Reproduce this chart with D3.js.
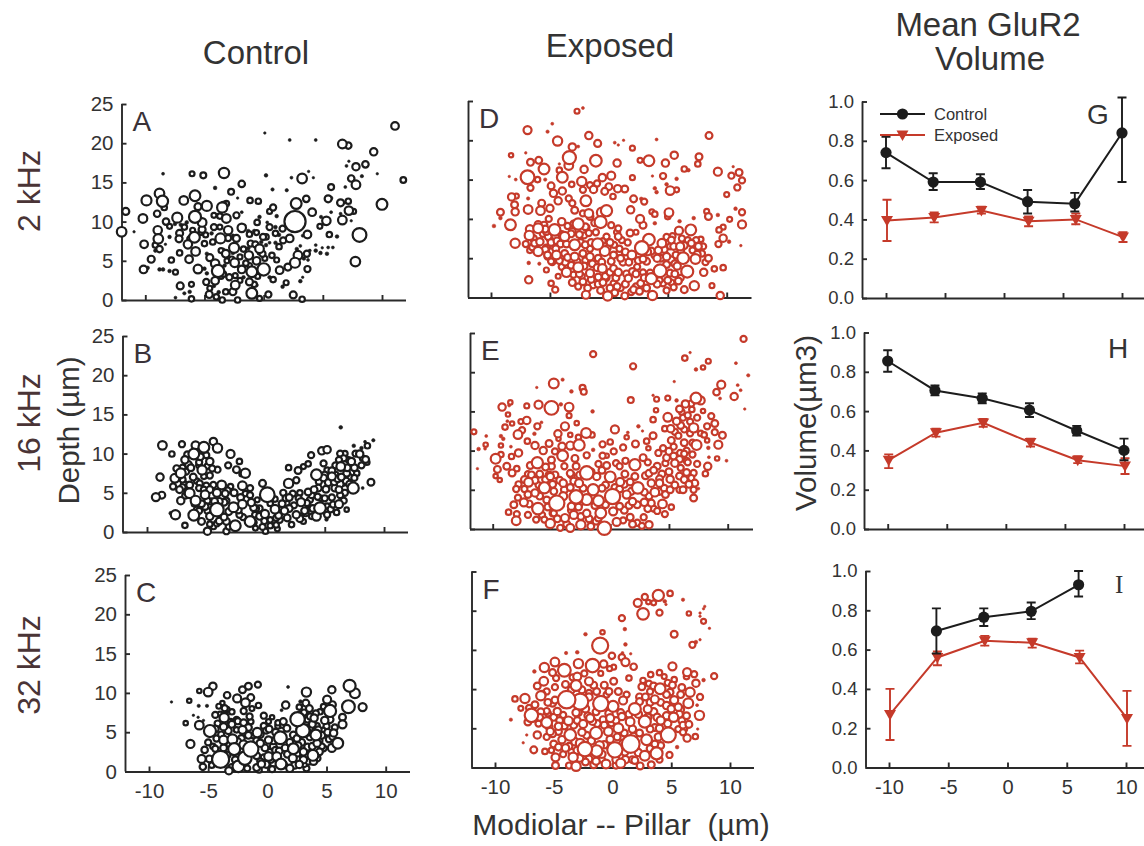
<!DOCTYPE html>
<html>
<head>
<meta charset="utf-8">
<script src="https://d3js.org/d3.v7.min.js"></script>
<style>
  html, body { margin: 0; padding: 0; background: #fff; }
  text { font-family: "Liberation Sans", Arial, sans-serif; fill: #333; white-space: pre; }
  .domain, .tick line { stroke: #2a2a2a; stroke-width: 1.9; }
</style>
</head>
<body>
<svg id="canvas" width="1144" height="846"></svg>
<script>
  // synapse bubbles: [modiolar-pillar um, depth um, GluR2 volume]
  const panelA = [
    [2.65,10,2.5],[8.1,8.3,.9],[10,12.2,.5],[7.75,4.9,.38],[11.1,22.2,.22],[11.8,15.3,.11],[9.3,18.9,.2],[8.6,17.3,.15],[7.8,17,.2],[6.65,19.9,.3],[7.15,19.7,.15],
    [9.6,16.1,.02],[8.3,15.8,.04],[7.4,15.5,.15],[7.8,14.7,.3],[6.9,14.4,.03],[5.7,14.4,.12],[.1,21.3,.02],[2.2,20.4,.03],[4.4,20.4,.03],[7.2,17.7,.02],[7,17.1,.03],
    [-3.35,16.2,.45],[-5.1,15.9,.12],[-6.05,16.1,.08],[-8.5,16.1,.03],[.2,15.9,.05],[2.35,15.6,.03],[3.25,15.5,.38],[3.8,16.4,.02],[4.2,15.6,.02],[-4.1,14.3,.05],
    [-2.75,13.8,.12],[-1.85,14.8,.15],[.75,14.1,.04],[1.95,14,.04],[-2.2,13,.02],[-1.15,12.7,.1],[-.45,12.6,.1],[3.6,12.9,.15],[2.75,12.3,.5],[5.45,12.9,.18],[5.7,13,.05],
    [6.5,12.4,.18],[7.15,12.6,.1],[7.2,11.4,.28],[7.6,11.3,.08],[6.65,10.2,.3],[7.4,10.1,.02],[5.3,10.1,.28],[4.85,10.6,.04],[4.1,11.2,.22],[5.7,11.2,.03],[6.5,11,.03],
    [-12,8.7,.38],[-11.65,11.3,.18],[-10.2,10.4,.3],[-10.95,8.7,.02],[-10.1,7.1,.22],[-10.15,3.9,.22],[-9.8,4.1,.05],[-9.5,5.2,.18],[-9.9,12.7,.42],[-8.8,13.6,.38],
    [-8.55,12.6,.55],[-9,11,.15],[-8.4,11.8,.1],[-8.25,10,.15],[-7.95,9.4,.08],[-7.3,10.5,.42],[-6.75,12.7,.3],[-5.8,13.3,.5],[-5.55,11.9,.18],[-4.8,12,.42],[-5.8,10.6,.65],
    [-5.2,9.9,.3],[-8.95,8.9,.28],[-8.9,7.8,.38],[-9.15,7,.1],[-8.8,6.5,.15],[-9.15,6.3,.05],[-7.95,8.05,.05],[-8.3,7.1,.02],[-7.1,8.5,.18],[-7.15,7.8,.18],[-5.85,8,.5],
    [-6.4,7.1,.28],[-7.1,6,.1],[-5.75,6.2,.3],[-6.3,5.2,.22],[-7.8,5.1,.1],[-8.8,3.9,.05],[-8.5,3.9,.05],[-7.95,3.7,.05],[-7.45,3.55,.08],[-7.05,1.8,.18],[-6.1,2,.08],
    [-7.45,.3,.03],[-6.7,.85,.04],[-6.25,1.05,.05],[-6.1,.15,.1],[-5.55,3.95,.3],[-4.9,8.3,.08],[-5.3,8.6,.08],[-5,7.2,.1],
    [-3.5,11.8,.45],[-3.15,10.4,.3],[-3.4,12.1,.15],[-3.15,12.3,.1],[-4.2,10.8,.08],[-3.7,10.7,.1],[-2.3,10.8,.13],[-1.85,11.2,.03],[-3.65,7.85,.42],[-3,8.9,.28],
    [-3.85,3.7,.7],[-2.5,6.65,.42],[-2.45,4.75,.3],[-3.2,5.9,.22],[-4.1,4.65,.28],[-4.55,5.4,.18],[-4.85,2.3,.13],[-4.1,2.45,.22],[-1.85,3.9,.22],[-1,3.6,.5],[0,3.9,.7],
    [-2.4,1.9,.3],[-1,.85,.5],[-.35,6.55,.3],[-1.25,5.7,.28],[-.6,5,.22],[-2.3,7.85,.18],[-1.85,9.2,.28],[-1.2,8.4,.1],[-.05,8.05,.13],[.2,8.05,.1],[.5,9.3,.13],[.8,11.8,.13],
    [.5,11.3,.08],[1.1,10.7,.05],[-.35,10.6,.05],[-.55,9.9,.1],[2.65,4.75,.42],[2.9,5.7,.3],[3.7,8.35,.22],[2.2,7.85,.22],[1.65,7.6,.13],[1.3,6.8,.1],[1.35,3.8,.22],
    [.7,5.7,.1],[1.1,5.1,.08],[2.05,4.2,.18],[3.7,3.95,.13],[3.1,2.4,.05],[3.3,2.9,.02],[2.5,.65,.18],[3.25,.1,.1],[1.9,2.2,.08],[1.6,1.7,.05],[.8,2.6,.1],[.4,.7,.13],
    [-.35,.2,.08],[-2.2,0,.1],[-3.5,0,.1],[-4,.4,.1],[-4.6,.7,.18],[-4.55,1.5,.08],[-3.2,1.05,.1],[-2.6,1.05,.18],[-1.2,2.3,.18],[-.8,2,.1],[3.65,5.9,.13],[3.9,6.3,.03],
    [4.4,6.3,.05],[4.8,6,.05],[5.35,5.9,.05],[4.95,6.65,.02],[5.45,6.7,.03],[5.85,6.7,.03],[5.55,8.35,.1],[6.2,8.1,.05],[4.75,9.4,.08],[5.1,9.75,.05],[4.4,7,.03],[3.4,5.3,.05],[3.75,5.1,.03],
    [-3,7.9,.13],[-2.7,5.2,.1],[-1.7,6.5,.1],[-1.1,7.2,.13],[-.7,7.1,.13],[-3.6,6.3,.08],[-4.3,7.4,.1],[-4.2,9.3,.13],[-3.7,9.3,.08],[-1.5,4.7,.1],[-.1,5.9,.13],[1,8.5,.1],[1.6,9.1,.13],[2.5,9,.08],
    [-2.9,2.9,.13],[-3.4,3.3,.1],[-2,2.5,.08],[-.5,3,.08],[.5,2.9,.05],[-5.2,9,.18],[-6.7,9.3,.1],[-6.2,7.8,.13],[-7.5,9.7,.05],
    [-4.4,8.5,.05],[-3.9,10.8,.03],[-2.6,8.2,.05],[-3.4,6.4,.05],[-3.1,5,.08],[-2,5.5,.08],[-1.3,6.6,.05],[-.2,7.4,.05],[-.6,8.6,.08],[.2,7,.05],[.5,7.3,.03],[-1.6,9.5,.03],[-1.3,8.8,.05],[-.8,8.8,.05],
    [1,9.3,.05],[.3,9.9,.03],[-.3,6.1,.08],[.1,5.3,.08],[-1.2,4.4,.08],[-2.4,3.1,.08],[-3.3,4.4,.05],[-3.6,3,.08],[-4.2,1.8,.05],[-5,4,.05],[-4.8,3.4,.05],[-.6,1.9,.05],[-1.3,2.6,.05],[-6.5,9.9,.05],
    [-6,8.9,.08],[-7,9.6,.05],[2.8,6.5,.05],[3.1,6.9,.03],[3.3,8.2,.03],[1.3,8.3,.05],[1,7.3,.05],[-4.8,5.9,.05],[-2.6,6,.05],[-2.1,4.2,.05],[-1.7,2.9,.05],[-3.8,1,.05]
  ];
  const panelB = [
    [-8.7,11.05,.3],[-7.9,9.95,.1],[-8.9,7,.2],[-9.25,4.45,.25],[-8.75,4.7,.17],[-7.6,2.2,.35],[-8,2.4,.05],[-6.8,.85,.1],[-7.05,11.2,.13],[-5.9,11.05,.25],[-5.2,10.8,.5],
    [-4.4,11.55,.2],[-4.05,10.7,.35],[-6.05,9.95,.5],[-2.95,9.95,.25],[-2.2,9,.1],[-3.15,8.5,.13],[-2.45,7.95,.17],[-1.7,7.5,.35],[-4.05,7.95,.13],[-4.7,9,.2],[-5.35,7.9,.35],
    [-7.15,7.5,.4],[-6.8,9.2,.2],[-6.1,7,.17],[-7.65,6.85,.3],[-7.8,5.8,.13],[-7.25,5.4,.17],[-6.4,4.95,.4],[-7.15,4,.2],[-5.9,4,.4],[-5.1,4.75,.3],[-4.1,5,.25],[-3.7,6,.3],
    [-4.4,6,.13],[-5.55,6.2,.13],[-2.95,5.8,.1],[-2.65,5,.17],[-1.95,5.9,.3],[-1.3,5.6,.13],[-1.95,3.55,.3],[-2.7,3.15,.4],[-4.1,2.85,.85],[-6.05,2.15,.5],[-5.1,3.25,.17],
    [-5.4,1.35,.17],[-4.7,2,.2],[-4.9,.1,.2],[-3.3,1.35,.17],[-3.3,.1,.13],[-2.55,.8,.5],[-1.3,1.35,.5],[-1.2,3.75,.2],[-.05,2.3,.25],[-.25,.65,.13],[-.85,.5,.08],[0,.1,.1],
    [.15,4.75,1.05],[-.25,6.2,.17],[.8,2.9,.3],[1.95,6.2,.35],[2.6,6.6,.13],[1.95,8.2,.1],[2.75,7.85,.17],[3.2,8.35,.08],[3.6,8.7,.1],[3.85,9.8,.13],[4.75,10.35,.2],[5.2,10.5,.2],
    [3,3.8,.25],[2.6,2.2,.2],[1.83,1.8,.17],[2.2,.95,.1],[4.3,7.3,.5],[4.6,3.05,.6],[3.8,3.05,.1],[4.3,2,.3],[3.2,1.35,.08],[3.75,4.1,.13],[4.45,5.6,.17],[5.1,5.45,.17],
    [5.85,5.6,.17],[5.6,7.1,.25],[6.35,8.35,.3],[6.2,3.55,.25],[7.4,5.6,.55],[7.25,9,.2],[7.95,9.95,.2],[8.45,9.25,.17],[8.6,11,.1],[9.1,11.7,.04],[8.4,11.5,.03],[8.1,10.7,.05],
    [7.45,11,.05],[6.35,13.35,.05],[6.3,10,.13],[8.9,6.35,.17],[8.2,5.6,.03],[8.55,8.9,.1],[7.7,7.5,.1],[6.85,7.5,.17],[4.9,8.75,.13],[6.85,2.85,.06],[6,2.5,.1],[5.15,1.6,.05],
    [1.5,5,.13],[1.8,3.7,.1],[.4,1.55,.1],[1.2,1.55,.13],[-.5,3,.13],[.4,3.65,.1],[1.6,2.7,.2],[3.4,2.4,.13],[-1.9,1.9,.13],[-3.5,3.8,.17],[-4.4,.7,.1],[-3.9,1.4,.17],[-5.8,2.9,.1],
    [-5.2,7.1,.1],[-6.5,8.6,.17],[-7,8.2,.13],[-6.9,6.2,.1],[-6.4,6,.17],[-5,5.9,.13],[-3.3,4,.13],[-2.2,2.2,.13],[-.9,2.2,.1],[.9,.9,.1],[2.9,2,.13],[3.9,2,.1],[5,4.3,.13],
    [5.6,4.4,.13],[6.8,6.5,.17],[6.3,6.1,.17],[7.1,7,.13],[5.9,8.5,.13],[5.2,7.9,.1],[5.2,3.3,.1],[4.7,4.3,.1],[7,9.2,.1],[6.6,9.4,.13],[-6,3.6,.1],[-3.9,3.9,.17],[-4.6,3.9,.13],
    [-1,1.2,.13],[2,4.4,.17],[2.9,5,.1],[.8,4.2,.1],[-.7,4.1,.08],[-2,7.4,.08],[1,.4,.08],[-5.6,8.5,.13],
    [-7.5,8.1,.15],[-7.4,7,.15],[-7,6.7,.13],[-6.7,7.7,.13],[-6.3,8.2,.17],[-6.6,9.9,.13],[-5.5,9.6,.17],[-5.6,8.9,.13],[-5,9.8,.13],[-4.9,8.4,.1],[-4.5,8.1,.13],[-4.7,7.2,.13],[-5.8,6.5,.1],
    [-7,5.7,.13],[-6.6,5.2,.13],[-6.8,4.6,.1],[-5.6,5.6,.13],[-5.2,5.4,.13],[-4.7,5.4,.17],[-4.9,4,.13],[-5.4,3.6,.17],[-5.6,2.7,.13],[-4.9,2.7,.13],[-4.3,3.9,.17],[-3.4,4.9,.17],[-3.2,5.3,.13],
    [-3.1,2.6,.17],[-3.5,1.9,.17],[-3.1,.7,.13],[-4.1,1.1,.13],[-4.7,1,.1],[-2.3,2.8,.17],[-2.1,4.4,.17],[-1.7,4.9,.1],[-1.3,4.7,.13],[-1,3.1,.17],[-.8,3,.13],[-.5,2,.17],[-.1,1.4,.13],[.4,.8,.1],
    [.9,1.8,.13],[1.4,3.6,.17],[1.1,2.1,.17],[1.7,4.3,.13],[2,3,.17],[2.4,3.4,.13],[2.8,4.3,.13],[2.3,4.9,.13],[2.9,1.7,.17],[3.3,2.7,.17],[3.5,3.7,.13],[3.9,4.7,.13],[3.6,5.1,.17],[4.1,5.4,.17],
    [4.4,4.5,.13],[4,3,.17],[5.2,2.2,.13],[5.5,2.9,.13],[5.7,3.5,.13],[4.5,6.4,.13],[4.9,6.9,.17],[5,7.3,.13],[5.3,6.3,.17],[5.8,6.4,.17],[6.1,6.8,.17],[6.4,7,.17],[6.6,6.3,.13],[6.9,8.2,.17],
    [7.5,8.2,.17],[7.2,8.6,.13],[7.1,6.1,.17],[7.5,6.9,.13],[6.7,5,.13],[6.3,4.7,.13],[6.6,4,.13],[6.2,5.4,.17],[5.6,7.8,.17],[5.9,7.3,.13],[6.2,9.2,.13],[6.7,10,.1],[7.6,10,.13],[8.2,9.4,.1],[8.1,8.5,.13]
  ];
  const panelC = [
    [-8.1,8.85,.02],[-6.6,9,.06],[-6.9,6.15,.06],[-6.25,7.15,.02],[-5.85,6.9,.02],[-5.8,8.35,.04],[-5.1,8.35,.04],[-5.4,6.5,.02],[-5.75,10.25,.06],[-5,10.1,.3],[-4.6,10.85,.2],
    [-3.4,9.7,.15],[-5.75,5.9,.3],[-4.85,5.15,.65],[-6.5,3.5,.25],[-5.3,2.75,.15],[-5.55,1.6,.25],[-5.45,.6,.15],[-3.95,1.55,1.5],[-3.25,.1,.2],[-2.45,.65,.6],[-2.8,2.85,.65],
    [-2.95,4.1,.4],[-1.4,2.85,1.15],[-1.9,1.7,.85],[-2.1,5.3,.25],[-3.65,6.85,.35],[-3.7,5.7,.2],[-3.6,8.05,.13],[-2.55,9.3,.25],[-2.1,10.4,.17],[-1.6,10.85,.17],[-.8,11.05,.13],
    [-1.4,9.4,.17],[-1.85,8.75,.3],[-.75,8.4,.1],[-2,7.7,.13],[-2.6,6.55,.13],[-1.4,6.35,.1],[-.85,4.95,.35],[.15,5.4,.17],[-.3,7.1,.13],[.1,6.35,.08],[.1,4,.2],[1.1,4.3,.75],
    [1.15,.95,.5],[.1,1.9,.3],[.8,1.9,.3],[-.5,.95,.2],[1.75,10.75,.03],[1.55,8.45,.2],[1.2,7.8,.03],[1.35,6.35,.17],[2.55,6.65,1],[3,5.2,.85],[2.2,2.9,.5],[2.15,1.7,.25],
    [3.3,10.1,.35],[3.25,8.7,.17],[3.55,8,.17],[2.8,8.9,.05],[3.95,6.8,.2],[4.1,4.65,.5],[3.85,2.05,.5],[3.05,1.5,.2],[3.9,1.3,.2],[4.2,3.6,.2],[5.3,7.7,.65],[5.45,10.4,.2],
    [5.05,9.15,.25],[4.85,6.5,.2],[5.6,4.9,.2],[5.95,3.6,.5],[5.45,3,.25],[4.75,2.95,.13],[6.35,6,.25],[6.35,6.9,.17],[6.95,10.9,.65],[7.4,9.95,.4],[6.85,8.25,.75],[8.05,8.2,.25],
    [4.75,8.25,.1],[4.45,7.6,.1],[2.2,4.65,.17],[1.65,5.5,.17],[.5,3.2,.17],[-2,3.4,.3],[-3.7,4,.3],[-4.6,3.2,.1],[-.6,3.6,.2],[1.35,.85,.2],[3.05,2.5,.2],[4.6,4.6,.17],[5,5.75,.13],
    [-4.1,8.3,.08],[-4.4,7.2,.13],[-4.2,6.1,.13],[-3.1,6.3,.13],[-2.6,5.3,.1],[-1.7,5.7,.13],[-1.2,4.6,.13],[-.3,5.8,.13],[.9,5.8,.1],[.5,1,.13],[-.9,2,.17],[2.7,.9,.2],[2.9,3.7,.17],
    [3.3,.4,.13],[1.9,.4,.2],[-1.7,.4,.13],[-.7,.2,.1],[.4,.3,.13],[-4.7,.8,.1],[-3.2,3.4,.13],[3.6,5.6,.17],[4.1,7.4,.13],[5.5,8.5,.17],[4.2,5.8,.1],[2.8,7.3,.1],
    [-5,3.7,.13],[-4.3,4.2,.13],[-4.4,5.4,.17],[-3.9,4.7,.13],[-3.3,5.2,.17],[-3,6,.17],[-2.5,6.4,.13],[-2,6.2,.17],[-1.6,5.6,.17],[-1.6,4.6,.17],[-2.2,4.2,.17],[-.9,3.9,.17],[-.6,4.7,.17],
    [-.2,3,.17],[.5,3.9,.17],[.7,2.7,.17],[.7,5,.17],[.2,2.5,.13],[-.3,1.8,.13],[-.6,1.3,.13],[-.1,.9,.17],[.3,1.5,.13],[1,2.6,.17],[1.5,3,.17],[1.7,2.2,.17],[1.9,3.7,.17],[2.5,4.2,.17],[2.6,3.3,.17],
    [2.5,2.2,.17],[2.6,1.5,.17],[2.3,.8,.17],[3.1,1,.17],[3.3,1.9,.17],[3.5,1.3,.17],[3.4,3.1,.17],[3.8,3.2,.17],[3.6,4.4,.17],[3.4,5,.17],[3.8,6,.17],[4.3,5.3,.17],[4.4,3.9,.13],[4.6,3.2,.13],
    [4.4,2.5,.17],[4.2,1.7,.17],[4.7,5.2,.13],[5.1,5,.17],[5.2,4.1,.13],[5.5,4.4,.13],[5.7,5.6,.13],[5.3,6.6,.17],[-3.4,2.1,.17],[-3,.5,.17],[-2.7,1.5,.17],[-.9,.5,.17],[-4.9,1.6,.17],[-4.4,2.9,.13],
    [-3.7,3,.17],[-2.5,3.8,.17],[-3.4,7.9,.08],[-3.8,8.7,.06],[-3.6,7.2,.13],[-4,7.3,.08],[-3,7.6,.1],[-1.5,7,.13],[-1.3,8,.08],[2.7,8.2,.1],[3.1,7.5,.13],[3.4,6.6,.13],[3.6,7,.13],[.9,6.2,.1],
    [1.3,5.9,.1],[.4,6.9,.06],[-.1,5.2,.13]
  ];
  const panelD = [
    [-2.7,23.7,.08],[-2.2,24.1,.03],[-4.8,22.1,.03],[-6.9,21.3,.25],[-5.2,21.1,.04],[-4.35,19.9,.35],[-1.7,20.6,.2],[-.95,19.6,.18],[.5,19.7,.03],[.8,19.4,.02],[1.25,20,.02],[2,19,.08],
    [4.05,20.1,.03],[8.5,20.6,.17],[-8.3,18.1,.06],[-7.05,18.4,.02],[-3.1,19.15,.2],[-2.6,19.2,.03],[-3.35,17.8,.8],[-6.65,17.2,.17],[-5.95,17.45,.17],[-4.2,17,.02],[-1.1,17.4,.6],
    [-3.4,16.8,.3],[-2.1,16.3,.2],[.7,17.1,.2],[2.65,17.45,.08],[3.4,17.4,.5],[4.8,17.1,.2],[5.55,18.1,.2],[7.65,17.9,.17],[7.55,17,.1],[6.4,16.35,.1],[6.75,16.2,.05],[9.25,16,.25],
    [10.55,16.65,.02],[11.05,15.9,.17],[10.4,15.5,.13],[11.3,14.9,.13],[10.9,14,.13],[10,13.1,.08],[10.75,11.3,.05],[11.3,10.85,.13],[11.3,9.3,.25],[10.25,9.95,.08],[11.2,6.6,.02],
    [9.7,3.8,.1],[10.2,7.1,.05],[8.75,1.5,.08],[9.45,.25,.2],[8.95,3.65,.1],[8.05,3.2,.2],[7.25,1.5,.35],[6.4,1,.17],[3.7,.25,.35],[1.35,.2,.17],[-.1,.2,.35],[-1.95,.35,.25],
    [-6.8,2.25,.2],[-4.55,1,.13],[-4.9,1.8,.1],[-4.3,2.7,.08],[-6.8,4.4,.05],[-5.9,4.3,.04],[-5.3,3.5,.08],[-9.75,9.1,.05],[-9.2,10.85,.17],[-9.2,10.1,.05],[-8.35,9.25,.5],
    [-8.45,15.4,.02],[-7.9,15,.03],[-6.9,15.3,.9],[-6.65,13.95,.13],[-6.05,15,.1],[-5.5,16.35,.5],[-4.9,14.2,.17],[-3.95,15.3,.5],[-4.2,16.2,.1],[-4.7,13.25,.2],[-3.95,13.55,.2],
    [-5.4,15,.04],[-8.25,12.8,.2],[-7.85,12.9,.08],[-8,11.8,.17],[-7.95,10.9,.2],[-6.85,11.2,.3],[-6.85,12.6,.04],[-5.7,12,.17],[-5.8,11.05,.3],[-5,11.35,.2],[-4.3,12.3,.2],
    [-3.4,12.6,.13],[-1.95,12.3,.5],[-2.3,14.75,.35],[-3.15,14.4,.1],[-1.6,14.3,.13],[-1,14.5,.13],[-.55,15.25,.2],[.2,15.5,.25],[0,14.1,.17],[.75,13.85,.2],[1.35,13.8,.17],
    [.35,12.85,.1],[-.35,13.5,.17],[-1.3,13.75,.2],[-2.2,13.7,.13],[2,15.25,.08],[3.7,15.45,.02],[4.6,15.45,.13],[5.75,15.1,.05],[5.2,13.6,.3],[5.75,13.7,.08],[3.9,13.9,.05],[4.05,13.4,.05],
    [4.9,14.4,.05],[2.1,12.55,.17],[3,12.2,.13],[2.75,12.55,.05],[1.85,11.15,.2],[2.65,10,.25],[2.9,9.2,.17],[3.65,10.9,.08],[3.9,10.6,.1],[5.1,10.8,.3],[5,10.3,.1],[3.9,9.45,.05],
    [-.6,10.8,.4],[-.2,11.05,.55],[-.7,9.6,.65],[-2.6,9.35,.55],[-1.7,10.7,.3],[-4,9.65,.2],[-4.6,8.6,.6],[-6,8.8,.4],[-6.75,7.9,.35],[-6.7,8.7,.25],[-7.95,6.9,.35],[-7.05,6.8,.13],
    [-6.7,6,.1],[-6,5.85,.35],[-5.3,6.3,.17],[-5.15,7.75,.17],[-5.85,7.1,.2],[-4.45,5.4,.3],[-3.75,5.6,.17],[-2.9,6.7,.5],[-3.75,7.75,.35],[-2.9,5.2,.25],[-2.6,3.85,.4],[-3.6,3.2,.35],
    [-3.1,1.9,.17],[-1.6,5.2,.2],[-.95,6.8,.55],[-.35,5.9,.4],[-.55,3.7,.3],[-1.6,3.1,.25],[-1.33,1.6,.17],[.2,4.6,.17],[.8,3.2,.2],[1.65,2.45,.2],[2.8,6.3,.9],[3.4,7.35,.6],[4.35,3.4,.75],
    [3.6,2.4,.55],[6.3,5,.6],[6.65,3.3,.65],[7.35,4.9,.4],[6.05,6.5,.25],[6.95,8.6,.5],[5.95,8.5,.25],[4.9,5.2,.2],[5.2,6.5,.13],[4.5,6.9,.3],[1.95,5.4,.3],[3.2,4.6,.17],[1.8,8.2,.17],
    [2.3,8.3,.08],[.8,7.75,.17],[-.2,7.75,.13],[.45,6.7,.13],[5.2,3.1,.17],[8,6.5,.13],[8.45,5,.17],[9.35,8.6,.1],[9.7,7.55,.2],[9.3,6.8,.13],[9.7,8.95,.08],[8.45,10.3,.17],
    [8.3,10.95,.08],[7.2,10.1,.05],[9.25,10.5,.05],[6,9.7,.05],[-1.6,6.2,.13],[-.5,7.2,.1],[.9,5.7,.13],[1.2,4.5,.17],[2.4,3.9,.13],[2.9,3.2,.13],[3.2,1.2,.17],[2.1,1,.17],[1,1.2,.13],
    [-.9,1.7,.17],[-.2,2.5,.13],[.4,1.8,.13],[-2.3,2.7,.13],[-3.3,4.6,.17],[-4.8,4.5,.13],[-5.2,5.2,.13],[-4.9,7,.17],[-2.1,7.9,.13],[-1.9,8.9,.13],[-3.1,8.4,.17],[4.1,5,.2],[5.8,4,.2],
    [5.9,2.1,.17],[4.6,1.8,.13],[4.2,6,.2],[7.6,6.5,.17],[7.1,6,.13],[6.2,7.5,.13],[5.4,7.8,.13],[7.8,7.4,.1],
    [-5.5,9.2,.17],[-5.3,8.4,.17],[-5,7.4,.13],[-4.8,6.6,.13],[-4.4,7.2,.17],[-4.1,6.8,.17],[-4,8,.17],[-3.6,6.8,.17],[-3.5,9.1,.13],[-3.2,8.1,.17],[-3,9.4,.13],[-2.5,8,.17],[-2.4,7,.17],[-2.2,5.6,.17],
    [-2,4.7,.13],[-2,6.7,.17],[-1.5,7,.17],[-1.7,8.2,.13],[-1.1,8.3,.13],[-.9,5,.17],[-.6,4.5,.17],[-.3,2.7,.17],[-.5,1.9,.17],[-.9,2.6,.17],[-1.5,2.3,.17],[-2.2,2,.17],[-2.6,1.4,.13],[-3.2,4.1,.17],
    [-3.7,4.5,.17],[-4,3.9,.13],[-4.2,4.7,.17],[-3.5,5.1,.17],[-2.7,4.6,.17],[-2.1,4,.17],[-1.4,4.3,.17],[-1,3.8,.17],[.1,3.2,.17],[.4,3.7,.17],[.6,2.5,.17],[.1,1.2,.17],[.7,1.4,.17],[1.4,1.7,.17],
    [1.5,3,.17],[2,3.3,.17],[2.3,3,.17],[2.7,1.8,.17],[3,2.5,.17],[2.3,1.4,.13],[2.5,4.7,.17],[2.9,4.9,.17],[1.7,4.5,.17],[1,5,.17],[.4,5.4,.17],[.9,6.2,.13],[1.4,5.8,.17],[1.6,7,.13],[1.1,7.3,.13],
    [-.1,6.3,.13],[.1,7,.17],[.7,8.3,.13],[4.4,5,.17],[4.9,4.2,.17],[5.3,4.8,.17],[5.7,5.4,.17],[5.6,4.3,.17],[5.6,3,.17],[5,2.2,.17],[5.3,1.9,.13],[5.5,6.5,.17],[5.3,7.3,.17],[4.9,7.7,.13],[4.7,6.1,.17],
    [3.9,5.4,.17],[3.6,5.9,.17],[3.3,5.8,.17],[3.5,3.1,.17],[4.1,1.7,.17],[4.3,2.2,.13],[6.1,6,.17],[6.4,6.6,.17],[7,6.9,.17],[7.5,5.5,.17],[8.2,4.5,.13],[7.4,7.3,.13],[6.7,7.3,.13],[7.9,5.6,.13],
    [-6.4,7.5,.17],[-6.3,6.9,.17],[-6.5,6.4,.13],[-5.4,6.1,.17],[-5.2,5.4,.17],[-4.9,4.6,.13],[-5.4,8.7,.17],[-6,9.3,.17],[-5.6,8.1,.13],[-4.5,6.2,.17],[-5.1,10,.13],[-3.5,3.8,.13],[-2.5,3,.17],
    [-3,2.9,.13],[-1.8,1.2,.17],[-.7,.9,.17],[.5,.6,.17],[2.6,.8,.17],[1.9,.7,.13],[4.9,.9,.13],[5.5,1.3,.13],[6.1,2.5,.13],[-1.6,10.3,.17],[-1.2,9.5,.17],[-2,9,.17],[-2.9,11.1,.17],[-3.1,12,.13],
    [-2.2,10.7,.13],[.2,9.2,.13],[.8,8.8,.13]
  ];
  const panelE = [
    [11.35,24.25,.13],[-1.45,22.3,.13],[1.95,20.75,.13],[6.35,21.8,.1],[6.8,22.5,.02],[7.3,20.35,.05],[7.9,20.6,.06],[8.35,21.4,.08],[10.7,21.15,.03],[11.75,19.6,.04],[10.85,18.35,.03],
    [11.1,17.7,.03],[9.35,16.65,.03],[9.45,18.4,.25],[9.05,17.45,.15],[10.55,16.9,.2],[11.45,15.3,.02],[5.45,18.8,.02],[-4.05,19.05,.04],[-4.8,18.55,.4],[-6.25,18.05,.02],[-3.3,17.55,.05],
    [-2.35,18,.12],[-2.25,17.5,.12],[1.75,16.45,.12],[3.65,17.05,.02],[3.95,16.55,.08],[4.9,16.7,.08],[5.65,16.4,.05],[-5,15.45,.9],[-6.1,15.85,.25],[-7.1,15.7,.08],[-9.2,15.55,.2],
    [-8.5,16.15,.06],[-8.6,15.75,.03],[-3.5,15.55,.3],[-4.2,15.9,.05],[-1.5,15,.05],[-3.5,14.45,.08],[-8.7,14.6,.06],[-7.1,13.85,.2],[-7.6,13.7,.08],[-8.75,13.75,.03],[-8.35,13.45,.06],
    [-8.95,13,.1],[-6.2,13.1,.13],[-5.85,13.6,.03],[-3.85,13.1,.25],[-2.85,13.5,.06],[-11.6,12.4,.08],[-10.55,11.85,.03],[-9.3,11.85,.05],[-9.1,11.5,.05],[-7.85,12.05,.3],[-7.5,12.6,.13],
    [-6.45,12.15,.05],[-4.45,12.15,.2],[-4.4,11.5,.06],[-3.4,12,.06],[-2.05,12.25,.4],[-1.55,12,.1],[-2.7,11.7,.1],[.4,12.7,.25],[1.5,12.3,.03],[2.4,13.1,.05],[1.4,11.7,.06],[2.75,12.5,.02],
    [3.65,11.9,.17],[4.65,12.8,.1],[5.15,12.8,.2],[4.9,14.25,.3],[3.65,13.95,.1],[3.9,15.15,.06],[5.9,15.3,.17],[5.65,13.75,.2],[6.2,14.2,.13],[6.4,15.95,.2],[7.3,16.7,.5],[7.7,16.4,.25],
    [6.95,15.25,.1],[7.9,15.05,.06],[8.6,14.4,.13],[8.9,13.45,.17],[8.25,13.1,.13],[7.1,12.9,.35],[8.9,12.35,.13],[9.55,11.95,.17],[9.2,10.75,.25],[8.25,11.3,.06],[7.35,10.7,.4],[8.35,10.35,.05],
    [8.4,9.15,.03],[9.1,9,.06],[9.9,8.7,.03],[8.3,8,.2],[8.1,7.05,.1],[7.1,3.95,.17],[7.5,5.15,.03],[5.2,11.3,.17],[4.5,10.3,.13],[-11.2,10.2,.05],[-10.6,10.75,.06],[-10.65,10.25,.03],
    [-11.3,7.7,.02],[-9.3,10.65,.06],[-9.75,8.95,.4],[-9.3,9.5,.1],[-9.6,7.6,.17],[-9.75,6.75,.06],[-9.4,6.25,.06],[-8.4,9.25,.1],[-7.8,9.7,.2],[-8.45,10.5,.03],[-7.05,11.2,.1],[-8.8,8,.17],
    [-7.95,7.7,.1],[-8.35,7.15,.17],[-6.2,8.45,.55],[-6.4,10.65,.2],[-5.7,10,.2],[-5.2,10.9,.17],[-6.8,8.1,.17],[-4.05,9.35,.5],[-4.1,10.55,.2],[-2.65,10.7,.55],[-3.4,10.65,.25],[-1.45,10.1,.05],
    [-.65,10.8,.13],[0,11.1,.1],[.3,9.9,.13],[-.65,9.35,.13],[-.3,9.35,.06],[1.1,10.4,.13],[2.15,10.85,.17],[3.1,11.2,.1],[-2,7.15,.85],[2.1,8.2,.55],[3.25,10.3,.06],[4.1,9.7,.13],[5.4,10.5,.13],
    [5.95,9.7,.13],[6.5,10,.13],[-6.95,5.95,.3],[-5.6,5.25,.55],[-4.7,6.9,.17],[-4,5.85,.2],[-2.65,5.85,.25],[-1.45,5,.55],[0,6.65,.5],[.85,6,.25],[2.35,5.25,.6],[-4.55,3.3,1.15],[-2.9,4.1,.85],
    [-2,3.75,.5],[-1,3.6,.5],[.2,4.15,1.15],[1.4,4.4,.25],[-6.15,2.6,.6],[-7.35,3.4,.25],[-7.85,4,.13],[-8.2,3.1,.17],[-8.65,2.15,.1],[-8,1.05,.3],[-7.95,1.9,.13],[-5.1,.7,.35],[-4.25,.15,.13],
    [-3.4,.15,.25],[-2.5,.55,.35],[-1.65,.35,.17],[-.5,.1,.85],[-.8,2.05,.5],[-3.1,1.8,.25],[-3.85,1.4,.25],[-2,2,.2],[.25,2.25,.25],[.55,.9,.25],[1.9,3.5,.2],[2.9,3.4,.2],[4.45,3.2,.3],[3.3,.55,.2],
    [2.85,1.5,.13],[4.65,1.9,.13],[5.2,2.8,.1],[3.8,4.7,.3],[5.1,6.35,.2],[3.5,5.85,.2],[4.2,5.85,.2],[6.2,5,.17],[7.2,5.85,.17],[5.9,6.75,.17],[7.1,7.15,.13],[2.1,6.7,.17],[1.25,7,.17],[-1.15,6.7,.2],
    [-4,4.2,.25],[-7,4.4,.17],[-6.4,4.6,.2],[-5.1,6.7,.2],[5.5,8.4,.2],[6.5,8.7,.13],[7,9.5,.13],[6,7.8,.13],[4.7,8.4,.13],[4,8,.17],[3.2,8.5,.13],[1.3,8.7,.13],[.5,8.4,.13],[-1,8.3,.13],
    [-2.9,8,.17],[-3.9,8,.13],[-5,8,.17],[-7,7,.13],[-6,7,.17],[-3.3,6.9,.17],[-3.3,2.9,.2],[-1.2,1,.17],[1.7,1.5,.17],[2.3,.8,.13],[1.2,2.4,.17],[3.7,2.6,.13],[-5.8,1.8,.13],[-4.9,2,.13],
    [-6.7,6.9,.17],[-6.4,6.2,.17],[-6.1,5.6,.13],[-5.5,6.3,.17],[-5.2,6.9,.17],[-4.9,5.7,.17],[-4.8,4.8,.17],[-4.3,6.2,.17],[-3.9,5,.17],[-3.4,5.3,.17],[-3.1,6.1,.17],[-2.6,6.9,.17],[-3.4,7.1,.17],
    [-1.6,7.3,.13],[-.7,7.5,.17],[-.3,8.1,.17],[-.4,5.6,.17],[.4,5.3,.17],[.8,5.1,.17],[1.2,5.7,.17],[1.7,6,.17],[1.8,4.8,.17],[3,6.8,.17],[3.3,7.1,.17],[3.7,7.5,.17],[3.3,4.2,.17],[2.9,4.7,.17],
    [4.2,4.8,.17],[4.6,5.2,.17],[4.7,4.4,.17],[5.1,5,.17],[5.5,5.6,.17],[5.9,5,.13],[6.3,6.3,.17],[6.7,5.7,.17],[6.9,6.5,.13],[7.1,5,.13],[6.5,7.2,.17],[5,7.3,.17],[4.4,7,.17],[4.2,6.4,.17],[4.8,9.1,.17],
    [5,9.9,.17],[5.4,9.3,.17],[5.9,8.9,.17],[6.3,9.6,.13],[6.6,8.5,.13],[7.4,8.3,.13],[7,11,.13],[6.3,11,.17],[6.8,12.2,.13],[6.3,12.7,.13],[6,13.2,.17],[6.8,13.7,.13],[7.4,14.2,.13],[6.6,14.5,.13],
    [6.9,16,.13],[6.1,14.9,.1],[5.5,12.4,.13],[5.8,11.9,.13],[7.7,12.2,.1],[8,12,.1],[-1,1.4,.17],[-1.8,1.3,.17],[-2.5,1.6,.17],[-2.7,2.8,.17],[-1.3,3,.17],[-.4,3.1,.17],[.8,2.9,.17],[1.6,3,.17],
    [2.3,3.1,.17],[3.2,2.6,.17],[3.5,3.3,.17],[4,2.3,.13],[-3.7,.6,.17],[-4.5,1.3,.17],[-5.6,1.2,.13],[-6.3,1.2,.13],[-7,1.8,.13],[-6.9,3.2,.17],[-6,4.2,.17],[-5.4,3.7,.17],[-5.3,2.8,.17],[-4.8,2,.13],
    [-3.3,2.4,.17],[-2.6,3.2,.13],[-.7,5.2,.17],[-2.3,5.2,.17],[1.1,1.1,.13],[1.9,.6,.17],[2.7,.4,.13],[-5.5,7.9,.17],[-5,8.8,.17],[-4.7,9.9,.13],[-7.3,5.1,.13],[-7.3,6.3,.17],[-7.8,5.7,.13],[-8,5.1,.13],
    [-3,9,.17],[-2,9.4,.13],[.8,8,.13],[2.8,9.1,.17]
  ];
  const panelF = [
    [3.9,21.95,.55],[4.9,22.2,.1],[2.75,21.75,.13],[2.15,21,.25],[3.05,21.1,.06],[3.5,21,.08],[4.45,21.2,.05],[4.55,20.8,.02],[6,21.4,.04],[2.6,19.6,.6],[4,19.75,.13],[6.5,19.65,.06],
    [7.85,20.55,.02],[7.75,20.25,.02],[7.45,19.7,.02],[7.45,19.3,.02],[7.75,18.65,.08],[8.25,17.75,.02],[.8,19.05,.13],[1.05,17.65,.05],[-.85,17.25,.06],[-2.3,17,.05],[5.25,17,.17],
    [6.8,15.65,.13],[7.1,16,.05],[7.45,16.3,.02],[1.1,15.7,.05],[-1.05,15.55,1.3],[-3.95,14.6,.04],[-3,14.7,.05],[-.05,14.25,.15],[.85,14.6,.03],[.8,14.05,.15],[1.55,14.5,.02],[1.1,13.45,.25],
    [1.8,12.85,.15],[.1,12.8,.08],[-.25,12.6,.08],[-.75,13.2,.2],[-1.7,13,.85],[-2.9,13.25,.35],[-4.9,13.45,.3],[-5.8,12.75,.35],[-6.65,12.25,.05],[-4.1,12.4,.75],[-3,11.6,.25],[-1,12,.08],
    [5.1,12.9,.25],[3.25,11.85,.1],[1.4,11.4,.1],[4,12.1,.1],[6.35,12.15,.25],[6.95,11.9,.13],[6.3,11.6,.1],[8.65,11.65,.13],[7.75,11.15,.05],[7.1,10.75,.2],[4.4,11.6,.08],[5.25,11.2,.1],
    [2.5,10.3,.17],[4.05,10.05,.5],[6.6,9.6,.35],[7.45,9,.13],[6.45,8.2,.4],[7.4,6.65,.35],[7.2,7.95,.03],[7.05,3.95,.1],[7.25,4.9,.02],[6.35,3.75,.2],[-5.85,11,.3],[-6.4,10.4,.17],[-4.9,10.25,.13],
    [-3.1,10.45,.5],[-2,11,.25],[.1,11,.17],[-1.35,9.7,.17],[-.5,9.3,.13],[-8.3,8.75,.1],[-7.45,8.8,.35],[-6.1,9.15,.35],[-3.9,8.65,1.6],[-2.75,8.4,1.3],[-1,8.15,1.15],[.05,7.8,.5],[.9,8.55,.25],
    [1.9,7.45,.65],[3,7.45,.25],[3.6,8.7,.25],[4.6,7.9,.2],[5.25,8.6,.25],[5.2,6.4,.35],[-6.9,6.65,.85],[-7.8,7.55,.08],[-8.65,6.1,.04],[-5.6,5.75,.5],[-4.7,7.15,.2],[-6.4,4.15,.2],[-7.3,4.15,.02],
    [-7.6,3.15,.02],[-6.7,2.25,.17],[-5.75,2.05,.1],[-5,3,.17],[-4.85,1.3,.25],[-4.85,.25,.17],[-3.6,4.15,.6],[-4.3,3.55,.2],[-4.6,5.25,.2],[-3.75,5.95,.3],[-2.5,5.55,.25],[-1.4,4.4,.65],[-2.35,2.35,1],
    [-1.35,2.1,.6],[-3.35,1.3,.35],[-3.1,.15,.35],[-3.7,.25,.13],[-1.6,.35,.17],[-.55,.45,.3],[.2,2.25,1.15],[.7,.55,.35],[1.55,3,1.65],[.5,5,.4],[1.5,5.85,.3],[2.75,5.85,.65],[2.9,3.55,.5],
    [2.75,1.5,.4],[3.75,1.8,.65],[4.75,4.15,1.1],[2.35,.2,.17],[3.3,.35,.17],[4.85,1.6,.13],[5.5,2.6,.05],[3.9,3.9,.2],[5.9,6,.17],[4.1,6,.25],[-1.1,2.8,.3],[-.35,4.6,.3],[-2.75,3.1,.3],[-5.3,4.6,.2],
    [-4,2.5,.2],[1.05,2,.2],[-.2,6.3,.25],[-1.9,6.3,.25],[-3.1,7,.2],[-5.1,8.2,.17],[-5.5,6.9,.13],[-6.3,5.6,.13],[-2.3,7.5,.2],[-2,9.5,.13],[-3.5,9.9,.17],[.8,6.5,.2],[1.2,9.3,.13],[2.3,9,.17],
    [3,6.4,.2],[3.6,5.1,.17],[4.1,2.8,.17],[5.6,4.9,.13],[6,5.4,.17],[5.8,7.4,.17],[4.9,9.6,.17],[3.2,9.7,.13],[-2,1.1,.17],[-.9,1,.13],[1.7,1,.17],[3.5,7.1,.13],[-4.2,6.7,.13],[-3.5,2,.13],
    [-6.6,8,.17],[-6.1,7.1,.17],[-5.5,8.3,.17],[-4.9,8.6,.17],[-5.6,7.2,.13],[-5,6.4,.17],[-4.5,6,.17],[-4.1,5.3,.17],[-4.6,4.6,.17],[-5.1,4.3,.17],[-5.6,3.9,.13],[-3.3,5.4,.17],[-3,6,.17],[-2.9,7,.17],
    [-2.1,6.6,.17],[-1.7,5.9,.2],[-1.3,5.6,.17],[-.8,6.1,.17],[-.7,5.4,.17],[-.1,5.7,.17],[-2.6,4.5,.2],[-2.2,4.1,.17],[-3.2,3.3,.2],[-3.7,2.7,.17],[-3,2.2,.2],[-2.8,1.2,.2],[-2.3,.7,.17],[-1.4,.8,.2],
    [-.9,1.7,.2],[-.7,2.9,.2],[-.2,3.6,.2],[.4,3.9,.17],[1,4.4,.17],[1.7,4.9,.2],[1.4,6.8,.17],[2.2,6.8,.2],[2.3,8.4,.17],[2.8,9,.17],[3.2,8.3,.17],[3.5,7.1,.2],[3.8,6.4,.2],[4,5,.2],[4.7,5.6,.2],
    [4.6,6.6,.2],[5,7.5,.2],[5.6,7.7,.2],[5.2,8.5,.17],[4.6,9.3,.17],[4.1,8.3,.17],[5.8,9.3,.17],[5.9,10.2,.17],[5.1,10.5,.17],[4.7,10.8,.13],[3.5,10.4,.17],[3.1,10.7,.13],[2.6,11.1,.1],[5.7,6.8,.17],
    [6.3,6.6,.17],[6.5,5.5,.17],[6.1,4.9,.13],[6,4.5,.13],[2.2,1.9,.2],[1.9,.9,.17],[1.1,1,.2],[.3,.3,.17],[.3,1,.2],[3.2,2.4,.17],[3.6,3,.17],[4,1,.13],[1.8,4,.17],[2.3,4.4,.17],[3.2,4.9,.17],[.7,7,.17],
    [.3,6,.17],[-.3,6.9,.2],[-1.4,7.1,.17],[-2,9,.2],[-1.6,10.5,.17],[-.7,10.5,.17],[-.3,9.7,.17],[.5,9.7,.17],[-2.6,9.9,.17],[-4,10.6,.17],[-4.8,11.4,.13],[-5.1,12.1,.17],[-3.4,11.5,.13],[-2.4,12,.13],
    [-6,9.3,.2],[-5.6,9.7,.13],[-7.1,7.6,.13],[-7.2,5.8,.17],[-6.2,6.4,.17],[-4.2,1.7,.13],[-4.6,2.6,.17],[-5.2,2.2,.1],[-5.4,5.2,.17],[.9,3.1,.2],[-1.8,3.4,.2]
  ];

  // mean GluR2 volume binned along the modiolar-pillar axis
  const binCenters = [-10, -6, -2, 2, 6, 10];
  const gControl = [.74, .59, .59, .49, .48, .84];
  const gControlLow = [.66, .55, .555, .43, .44, .59];
  const gControlHigh = [.82, .635, .63, .55, .535, 1.02];
  const gExposed = [.395, .41, .445, .39, .40, .31];
  const gExposedLow = [.29, .385, .43, .365, .375, .285];
  const gExposedHigh = [.50, .435, .465, .415, .43, .335];
  const hControl = [.855, .705, .665, .605, .50, .40];
  const hControlLow = [.80, .68, .64, .57, .475, .35];
  const hControlHigh = [.91, .73, .69, .64, .525, .46];
  const hExposed = [.35, .49, .54, .44, .35, .32];
  const hExposedLow = [.31, .47, .52, .42, .335, .28];
  const hExposedHigh = [.38, .51, .56, .46, .37, .36];
  const iControl = [null, .695, .765, .795, .93, null];
  const iControlLow = [null, .58, .72, .755, .87, null];
  const iControlHigh = [null, .81, .81, .84, 1.0, null];
  const iExposed = [.27, .56, .645, .635, .56, .25];
  const iExposedLow = [.14, .52, .62, .61, .53, .11];
  const iExposedHigh = [.40, .59, .67, .655, .595, .39];

  const depthTicks = [0, 5, 10, 15, 20, 25];
  const posTicks = [-10, -5, 0, 5, 10];
  const volumeTicks = [0, .2, .4, .6, .8, 1];

  const black = "#1c1c1c";
  const red = "#c53a2a";
  let svg = d3.select("svg");
  const radius = d3.scalePow().exponent(.42).domain([0, 1]).range([0, 7.2]);

  function drawAxes(g, frame, x, y, yTicks, yFormat, showY, showX, fontSize) {
    const bottom = d3.axisBottom(x).tickValues(posTicks).tickSize(-5).tickPadding(showX ? 12 : 0)
        .tickFormat(showX ? (d => String(d)) : "");
    g.append("g").attr("transform", `translate(0,${frame.y0})`).call(bottom)
        .selectAll("text").style("font-size", fontSize + "px");
    const left = d3.axisLeft(y).tickValues(yTicks).tickSize(-5).tickPadding(8)
        .tickFormat(showY ? yFormat : "");
    g.append("g").attr("transform", `translate(${frame.axisX},0)`).call(left)
        .selectAll("text").style("font-size", fontSize + "px");
    // axes are plain L shapes, the d3 domain outer ticks would add nubs
    g.selectAll(".domain").each(function(d, i) {
      if (i == 0) d3.select(this).attr("d", `M${frame.axisX},0.5H${frame.endX}`);
      else d3.select(this).attr("d", `M0.5,${frame.y25}V${frame.y0}`);
    });
    g.selectAll(".domain").style("fill", "none");
  }

  function drawBubbles(frame, data, color, letter) {
    const x = d3.scaleLinear().domain([-10, 10]).range([frame.xMinus10, frame.xPlus10]);
    const y = d3.scaleLinear().domain([0, 25]).range([frame.y0, frame.y25]);
    const g = svg.append("g");
    drawAxes(g, frame, x, y, depthTicks, d3.format("d"), frame.showY, frame.showX, 20.5);
    const sorted = data.slice().sort((a, b) => a[2] - b[2]);
    // the smallest synapses print as solid dots
    g.selectAll("circle").data(sorted).join("circle")
        .attr("cx", d => x(d[0]))
        .attr("cy", d => y(d[1]))
        .attr("r", d => d[2] < .06 ? radius(d[2]) * .9 : radius(d[2]))
        .attr("fill", d => d[2] < .06 ? color : "#fff")
        .attr("stroke", color)
        .attr("stroke-width", d => d[2] < .06 ? .6 : 2.2);
    g.append("text").attr("x", frame.axisX + 11).attr("y", frame.y25 + 27)
        .style("font-size", "28px").style("fill", "#3a3238").text(letter);
  }

  function drawSeries(g, x, y, values, low, high, color, isTriangle, dx) {
    const line = d3.line().x(d => x(d[0]) + dx).y(d => y(d[1]));
    const pts = binCenters.map((c, i) => [c, values[i], low[i], high[i]]).filter(d => d[1] != null);
    g.append("path").attr("d", line(pts)).attr("fill", "none")
        .attr("stroke", color).attr("stroke-width", 2);
    pts.forEach(d => {
      const cx = x(d[0]) + dx;
      g.append("path")
          .attr("d", `M${cx - 4.5},${y(d[2])}H${cx + 4.5}M${cx},${y(d[2])}V${y(d[3])}M${cx - 4.5},${y(d[3])}H${cx + 4.5}`)
          .attr("stroke", color).attr("stroke-width", 1.9).attr("fill", "none");
      drawMarker(g, cx, y(d[1]), color, isTriangle);
    });
  }

  function drawMarker(g, cx, cy, color, isTriangle) {
    if (isTriangle) {
      g.append("path").attr("d", `M${cx - 6},${cy - 4.5}H${cx + 6}L${cx},${cy + 6}Z`).attr("fill", color);
    } else {
      g.append("circle").attr("cx", cx).attr("cy", cy).attr("r", 5.6).attr("fill", color);
    }
  }

  function drawVolume(frame, control, controlLow, controlHigh, exposed, exposedLow, exposedHigh, letter) {
    const x = d3.scaleLinear().domain([-10, 10]).range([frame.xMinus10, frame.xPlus10]);
    const y = d3.scaleLinear().domain([0, 1]).range([frame.y0, frame.y25]);
    const g = svg.append("g");
    drawAxes(g, frame, x, y, volumeTicks, d3.format(".1f"), true, frame.showX, 18.5);
    g.selectAll("g.tick text").filter(function() { return this.textContent.length < 4 && /^-?\d+$/.test(this.textContent); })
        .style("font-size", "20px");
    drawSeries(g, x, y, exposed, exposedLow, exposedHigh, red, true, 1);
    drawSeries(g, x, y, control, controlLow, controlHigh, black, false, 0);
    const t = g.append("text").attr("x", frame.letterX).attr("y", frame.letterY)
        .style("font-size", "28px").style("fill", "#333").text(letter);
    if (letter == "I") t.style("font-family", "Liberation Serif").style("font-size", "25px");
  }

  drawBubbles({axisX: 121.5, endX: 406, xMinus10: 145.3, xPlus10: 382, y0: 300, y25: 104, showY: true, showX: false}, panelA, black, "A");
  drawBubbles({axisX: 122.5, endX: 408, xMinus10: 147, xPlus10: 384, y0: 532, y25: 336, showY: true, showX: false}, panelB, black, "B");
  drawBubbles({axisX: 125, endX: 410, xMinus10: 149, xPlus10: 385.7, y0: 771.5, y25: 575, showY: true, showX: true}, panelC, black, "C");
  drawBubbles({axisX: 468, endX: 751.5, xMinus10: 491, xPlus10: 726.7, y0: 297.5, y25: 101, showY: false, showX: false}, panelD, red, "D");
  drawBubbles({axisX: 470, endX: 753, xMinus10: 492.7, xPlus10: 727.7, y0: 529, y25: 333, showY: false, showX: false}, panelE, red, "E");
  drawBubbles({axisX: 471.5, endX: 754, xMinus10: 495, xPlus10: 730, y0: 767.5, y25: 571.5, showY: false, showX: true}, panelF, red, "F");

  drawVolume({axisX: 862, endX: 1144, xMinus10: 886, xPlus10: 1122, y0: 298, y25: 101.5, showX: false, letterX: 1087, letterY: 124},
      gControl, gControlLow, gControlHigh, gExposed, gExposedLow, gExposedHigh, "G");
  drawVolume({axisX: 864, endX: 1144, xMinus10: 887.7, xPlus10: 1124, y0: 529, y25: 332.5, showX: false, letterX: 1108, letterY: 358},
      hControl, hControlLow, hControlHigh, hExposed, hExposedLow, hExposedHigh, "H");
  drawVolume({axisX: 865.5, endX: 1144, xMinus10: 889, xPlus10: 1126, y0: 767.5, y25: 571, showX: true, letterX: 1115, letterY: 593},
      iControl, iControlLow, iControlHigh, iExposed, iExposedLow, iExposedHigh, "I");

  // legend in panel G
  const legend = svg.append("g");
  [["Control", black, false, 114], ["Exposed", red, true, 135]].forEach(d => {
    legend.append("path").attr("d", `M880,${d[3]}H925`).attr("stroke", d[1]).attr("stroke-width", 2);
    drawMarker(legend, 902.5, d[3], d[1], d[2]);
    legend.append("text").attr("x", 934).attr("y", d[3] + 6).style("font-size", "16.5px").text(d[0]);
  });

  // titles and shared labels
  function label(txt, x, y, size, rotate, fill) {
    svg.append("text")
        .attr("transform", `translate(${x},${y})` + (rotate ? " rotate(-90)" : ""))
        .attr("text-anchor", "middle")
        .style("font-size", size + "px")
        .style("fill", fill || "#333")
        .text(txt);
  }
  label("Control", 256, 64, 33);
  label("Exposed", 610, 57, 33);
  label("Mean GluR2", 988, 36, 33);
  label("Volume", 990, 70, 33);
  label("2 kHz", 40, 191, 32, true, "#4a3436");
  label("16 kHz", 40, 423, 32, true, "#4a3436");
  label("32 kHz", 40, 665, 32, true, "#4a3436");
  label("Depth (µm)", 79, 430.5, 29.5, true);
  label("Volume(µm3)", 816, 423, 29.5, true);
  label("Modiolar -- Pillar  (µm)", 621, 835, 30);
</script>
</body>
</html>
